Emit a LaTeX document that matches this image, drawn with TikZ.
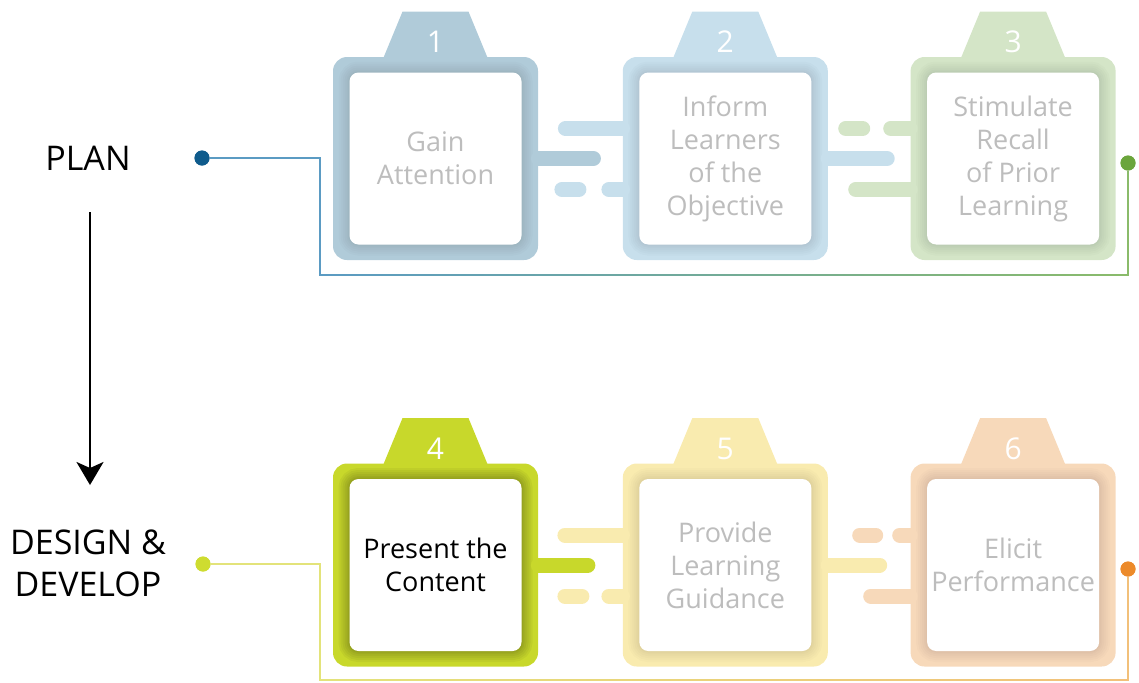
\documentclass[tikz,border=0pt]{standalone}
\usepackage{fontspec}
\setmainfont{Open Sans}
\usetikzlibrary{positioning}
\usetikzlibrary{arrows.meta}
\tikzset{>={Stealth[length=11.5pt,width=13.5pt,inset=3pt]}}

\definecolor{c1}{HTML}{B0CBD9}
\definecolor{c2}{HTML}{C7DFEC}
\definecolor{c3}{HTML}{D4E5C7}
\definecolor{c4}{HTML}{C8D82B}
\definecolor{c5}{HTML}{F9EBAF}
\definecolor{c6}{HTML}{F7D9BA}
\definecolor{txtgrey}{HTML}{BDBDBD}
\definecolor{dblue}{HTML}{0F5B8C}
\definecolor{dgreen}{HTML}{6BA53C}
\definecolor{dlime}{HTML}{CEDC30}
\definecolor{dorange}{HTML}{EC8A2A}
\definecolor{wblue}{HTML}{5B9BC3}
\definecolor{wgreen}{HTML}{8ABB6A}
\definecolor{wlime}{HTML}{E3E37A}
\definecolor{worange}{HTML}{F2C07A}

\tikzset{
  frame/.style={rectangle, rounded corners=7pt, fill=#1, inner sep=0pt,
    minimum width=102.5pt, minimum height=101.5pt},
  card/.style={rectangle, rounded corners=4.5pt, fill=white, inner sep=0pt,
    minimum width=86pt, minimum height=86pt, align=center, text=txtgrey,
    font=\fontsize{13.5}{16.5}\selectfont,
    preaction={draw=black, opacity=#1, line width=11pt},
    preaction={draw=black, opacity=#1, line width=9pt},
    preaction={draw=black, opacity=#1, line width=7pt},
    preaction={draw=black, opacity=#1, line width=5pt},
    preaction={draw=black, opacity=#1, line width=3pt},
    preaction={draw=black, opacity=#1, line width=1.5pt}},
  card/.default=.016,
  num/.style={text=white, anchor=base, font=\fontsize{15}{18}\selectfont},
  bar/.style={draw=#1, line width=7.5pt, line cap=round},
  dot/.style={circle, fill=#1, minimum size=7.5pt, inner sep=0pt},
  wire/.style={draw=#1, line width=0.9pt},
  stage/.style={align=center, font=\fontsize{17}{21}\selectfont},
}

\begin{document}
\begin{tikzpicture}[x=0.5pt, y=-0.5pt, node distance=42pt]
  \useasboundingbox (0,0) rectangle (1139,682);

  % top row
  \node[frame=c1] (f1) at (435.5,158.5) {};
  \node[frame=c2, right=of f1] (f2) {};
  \node[frame=c3, right=41pt of f2] (f3) {};
  % bottom row
  \node[frame=c4] (f4) at (435.5,565) {};
  \node[frame=c5, right=of f4] (f5) {};
  \node[frame=c6, right=41pt of f5] (f6) {};

  \foreach \i/\c in {1/c1,2/c2,3/c3,4/c4,5/c5,6/c6}
    \fill[\c] ([shift={(-52,1)}]f\i.north) -- ([shift={(-33,-45)}]f\i.north)
      -- ([shift={(33,-45)}]f\i.north) -- ([shift={(52,1)}]f\i.north) -- cycle;

  \node[num] (n1) at ([shift={(0,-4)}]f1.north) {1};
  \node[num] (n2) at ([shift={(0,-4)}]f2.north) {2};
  \node[num] (n3) at ([shift={(0,-4)}]f3.north) {3};
  \node[num] (n4) at ([shift={(0,-4)}]f4.north) {4};
  \node[num] (n5) at ([shift={(0,-4)}]f5.north) {5};
  \node[num] (n6) at ([shift={(0,-4)}]f6.north) {6};

  \node[card] (s1) at (f1) {Gain\\Attention};
  \node[card] (s2) at (f2) {Inform\\Learners\\of the\\Objective};
  \node[card] (s3) at (f3) {Stimulate\\Recall\\of Prior\\Learning};
  \node[card=.045, text=black] (s4) at (f4) {Present the\\Content};
  \node[card] (s5) at (f5) {Provide\\Learning\\Guidance};
  \node[card] (s6) at (f6) {Elicit\\Performance};

  % bars between the frames
  \draw[bar=c1] (f1.east) -- ++(55,0);
  \draw[bar=c2] ([shift={(0,-30)}]f2.west) -- ++(-57,0);
  \draw[bar=c2] ([shift={(0,31)}]f2.west) -- ++(-13.5,0);
  \draw[bar=c2] ([shift={(-60.5,31)}]f2.west) -- ++(17,0);

  \draw[bar=c2] (f2.east) -- ++(59,0);
  \draw[bar=c3] ([shift={(0,-30)}]f3.west) -- ++(-19.5,0);
  \draw[bar=c3] ([shift={(-64.5,-30)}]f3.west) -- ++(17,0);
  \draw[bar=c3] ([shift={(0,31)}]f3.west) -- ++(-54.5,0);

  \draw[bar=c4] (f4.east) -- ++(49.5,0);
  \draw[bar=c5] ([shift={(0,-30)}]f5.west) -- ++(-57.5,0);
  \draw[bar=c5] ([shift={(0,31)}]f5.west) -- ++(-13.5,0);
  \draw[bar=c5] ([shift={(-57.5,31)}]f5.west) -- ++(17,0);

  \draw[bar=c5] (f5.east) -- ++(51.5,0);
  \draw[bar=c6] ([shift={(0,-30)}]f6.west) -- ++(-10.5,0);
  \draw[bar=c6] ([shift={(-50.5,-30)}]f6.west) -- ++(16,0);
  \draw[bar=c6] ([shift={(0,31)}]f6.west) -- ++(-39.5,0);

  % stages
  \node[stage] (plan) at (88,158) {PLAN};
  \node[stage] (dev) at (88,563) {DESIGN \&\\DEVELOP};
  \draw[->, line width=1.2pt] (90,212) coordinate (a1) -- (90,485) coordinate (a2);

  \coordinate (k1) at (320,275);
  \coordinate (k2) at (1128,275);
  \coordinate (k3) at (320,680);
  \coordinate (k4) at (1128,680);
  \node[dot=dblue] (d1) at (202,158) {};
  \node[dot=dgreen] (d2) at (1128,163) {};
  \node[dot=dlime] (d3) at (203,564) {};
  \node[dot=dorange] (d4) at (1128,569) {};

  \draw[wire=wblue] (d1) -| (k1);
  \shade[left color=wblue, right color=wgreen]
    ([xshift=-0.45pt, yshift=-0.45pt]k1) rectangle ([xshift=0.45pt, yshift=0.45pt]k2);
  \draw[wire=wgreen] (k2) -- (d2);
  \draw[wire=wlime] (d3) -| (k3);
  \shade[left color=wlime, right color=worange]
    ([xshift=-0.45pt, yshift=-0.45pt]k3) rectangle ([xshift=0.45pt, yshift=0.45pt]k4);
  \draw[wire=worange] (k4) -- (d4);
  \node[dot=dblue] at (d1) {};
  \node[dot=dgreen] at (d2) {};
  \node[dot=dlime] at (d3) {};
  \node[dot=dorange] at (d4) {};
\end{tikzpicture}
\end{document}
